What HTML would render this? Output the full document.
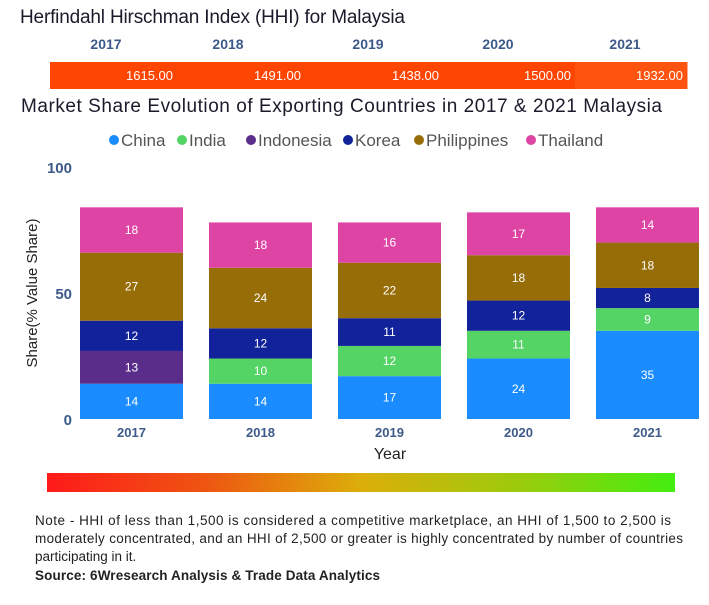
<!DOCTYPE html>
<html><head><meta charset="utf-8"><style>
body{margin:0;background:#fff;width:709px;height:600px;overflow:hidden;font-family:"Liberation Sans",sans-serif}
svg text{font-family:"Liberation Sans",sans-serif}
</style></head><body>
<svg id="c" width="709" height="600">
<defs><linearGradient id="g" x1="0" x2="1"><stop offset="0" stop-color="#ff1a1a"/><stop offset="0.25" stop-color="#ee5512"/><stop offset="0.5" stop-color="#dcae0a"/><stop offset="0.75" stop-color="#9ccb0c"/><stop offset="1" stop-color="#44ee10"/></linearGradient></defs>
<text x="20" y="23" font-size="19" fill="#1a1a2a" textLength="385">Herfindahl Hirschman Index (HHI) for Malaysia</text>
<g id="hhi"></g>
<text x="21" y="112" font-size="19" fill="#1a1a2a" textLength="641">Market Share Evolution of Exporting Countries in 2017 &amp; 2021 Malaysia</text>
<g id="legend"></g>
<text transform="translate(37,293) rotate(-90)" text-anchor="middle" font-size="15" fill="#222">Share(% Value Share)</text>
<g id="yaxis"></g>
<g id="bars"></g>
<text x="390" y="459" text-anchor="middle" font-size="16" fill="#222">Year</text>
<rect x="47" y="473" width="628" height="19" fill="url(#g)"/>
<g font-size="13.5" fill="#222">
<text x="35" y="525" textLength="636">Note - HHI of less than 1,500 is considered a competitive marketplace, an HHI of 1,500 to 2,500 is</text>
<text x="35" y="543" textLength="648">moderately concentrated, and an HHI of 2,500 or greater is highly concentrated by number of countries</text>
<text x="35" y="561">participating in it.</text>
<text x="35" y="580" font-weight="bold" textLength="345">Source: 6Wresearch Analysis &amp; Trade Data Analytics</text>
</g>
</svg>
<script>
const years=["2017","2018","2019","2020","2021"];
const hhiValues=[1615,1491,1438,1500,1932];
const series=["China","India","Indonesia","Korea","Philippines","Thailand"];
const colors=["#1a8cff","#55d466","#5a2d8a","#12229a","#976d08","#dd44a4"];
const china=[14,14,17,24,35];
const india=[0,10,12,11,9];
const indonesia=[13,0,0,0,0];
const korea=[12,12,11,12,8];
const philippines=[27,24,22,18,18];
const thailand=[18,18,16,17,14];
const yTicks=[0,50,100];
const vals=[china,india,indonesia,korea,philippines,thailand];
const NS="http://www.w3.org/2000/svg";
function mk(t,a,p,txt){const e=document.createElementNS(NS,t);for(const k in a)e.setAttribute(k,a[k]);if(txt!=null)e.textContent=txt;p.appendChild(e);return e;}
const y0=419,yk=2.52,x0=80,step=129,bw=103;
const y=v=>y0-v*yk, x=i=>x0+i*step;
const hg=document.getElementById('hhi');
const hx=[50,177,305,443,575,687];
const hcx=[106,228,368,498,625];
hhiValues.forEach((v,i)=>{
 const r=mk('rect',{x:hx[i],y:62,width:hx[i+1]-hx[i]+0.5,height:27,fill:v>1900?'#ff5410':'#ff4502'},hg);
 
 
 const t=mk('text',{x:hx[i+1]-4,y:80,'text-anchor':'end','font-size':13,fill:'#fff'},hg,v.toFixed(2));
 
 
 const h=mk('text',{x:hcx[i],y:49,'text-anchor':'middle','font-size':14,'font-weight':'bold',fill:'#3d5a8a'},hg,years[i]);
 
 
});
const lg=document.getElementById('legend');
const lpos=[114,182,251,348,419,531];
series.forEach((s,i)=>{
 const lx=lpos[i];
 const c=mk('circle',{cx:lx,cy:140,r:5,fill:colors[i]},lg);
 
 
 const t=mk('text',{x:lx+7,y:146,'font-size':17,fill:'#555'},lg,s);
 
 
});
const ya=document.getElementById('yaxis');
yTicks.forEach(v=>{
 const t=mk('text',{x:72,y:y(v)+6,'text-anchor':'end','font-size':15,'font-weight':'bold',fill:'#3d5a8a'},ya,v);
 
 
});
const bg=document.getElementById('bars');
years.forEach((yr,i)=>{
 let acc=0;
 vals.forEach((arr,s)=>{
  const v=arr[i];if(!v)return;
  const r=mk('rect',{x:x(i),y:y(acc+v),width:bw,height:v*yk,fill:colors[s]},bg);
  
  
  const t=mk('text',{x:x(i)+bw/2,y:y(acc+v/2)+4,'text-anchor':'middle','font-size':12,fill:'#fff'},bg,v);
  
  
  acc+=v;
 });
 const t=mk('text',{x:x(i)+bw/2,y:437,'text-anchor':'middle','font-size':13,'font-weight':'bold',fill:'#3d5a8a'},bg,yr);
 
 
});
</script>
</body></html>
